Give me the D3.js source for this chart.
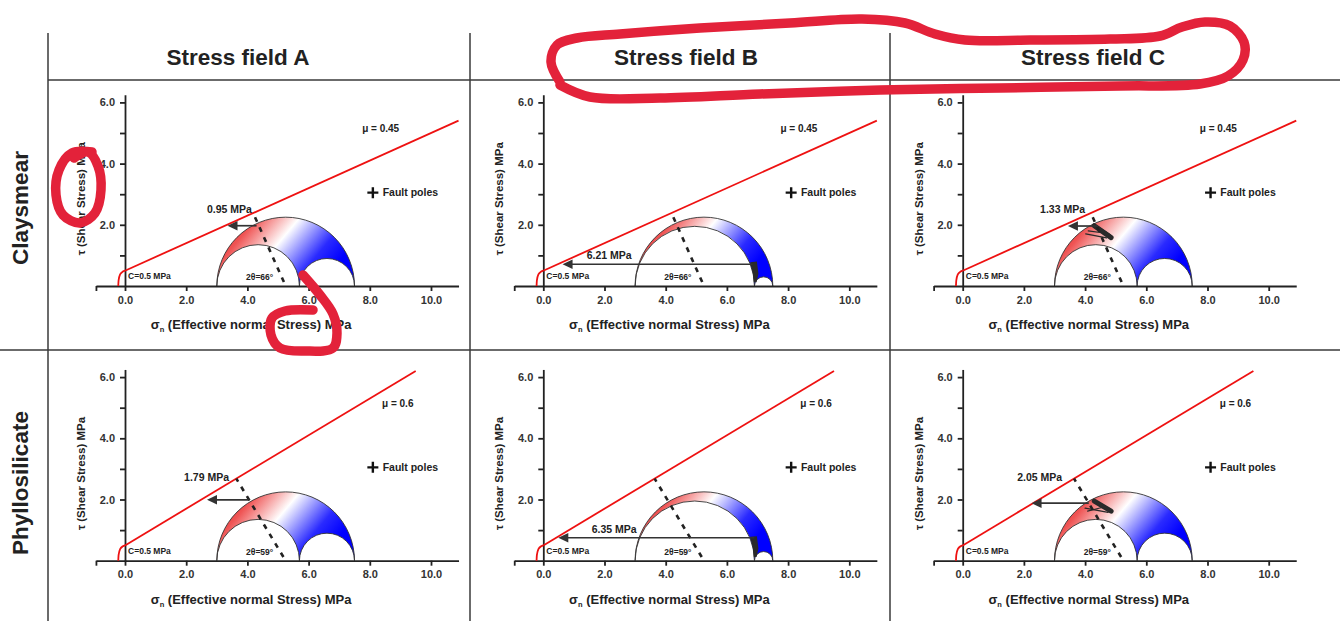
<!DOCTYPE html>
<html lang="en">
<head>
<meta charset="UTF-8">
<title>Mohr circles - stress fields</title>
<style>
  body { margin: 0; background: #fff; overflow: hidden; }
  svg { display: block; font-family: "Liberation Sans", Arial, sans-serif; }
  .axis path, .axis line { stroke: #222; stroke-width: 1.8; }
  .axis text { font-size: 11px; font-weight: bold; fill: #333; }
</style>
</head>
<body>
<svg id="chart" width="1340" height="621"></svg>
<script src="https://cdnjs.cloudflare.com/ajax/libs/d3/7.8.5/d3.min.js"></script>
<script>
// ---- data ----
const fields = ["Stress field A", "Stress field B", "Stress field C"];
const rocks = ["Claysmear", "Phyllosilicate"];
const mu = [0.45, 0.6];                  // friction per row
const cohesion = 0.5;
const envelopeEnd = [10.9, 9.5];         // sigma where the red line stops
const envelopeToe = [[-0.22, 0], [-0.21, 0.18], [-0.16, 0.38], [-0.07, 0.47], [0, 0.5]];
const sigma1 = [7.5, 7.5, 7.5];
const sigma2 = [5.7, 6.9, 5.7];
const sigma3 = [3.0, 3.0, 3.0];
const twoTheta = [66, 59];
const xTicks = [0, 2, 4, 6, 8, 10];
const yTicks = [1, 2, 3, 4, 5, 6];

// shear stress arrows (start on circle -> tip on envelope)
const arrowLabels = [["0.95 MPa", "6.21 MPa", "1.33 MPa"], ["1.79 MPa", "6.35 MPa", "2.05 MPa"]];
const arrowStart = [[[4.3, 1.97], [6.84, 0.71], [4.42, 1.96]], [[4.07, 1.99], [6.9, 0.75], [4.12, 1.88]]];
const arrowTip = [[3.35, 0.63, 3.44], [2.68, 0.49, 2.25]];
const arrowLabelAt = [[[2.68, 2.4], [1.42, 0.88], [2.53, 2.4]], [[1.93, 2.61], [1.58, 0.9], [1.78, 2.61]]];

// clusters of fault poles (dark strokes)
const poleWedge = [[6.76, 0.78], [6.98, 0.8], [7.03, 0.4], [6.97, 0.12], [6.88, 0.12], [6.84, 0.45]];
const poleStrokesC = [
  [[[4.3, 1.97], [4.85, 1.58], 5], [[4.42, 1.9], [4.8, 1.64], 3.5], [[4.02, 1.7], [4.7, 1.57], 1.3], [[4.1, 1.8], [4.62, 1.73], 1.1]],
  [[[4.3, 1.95], [4.85, 1.62], 5], [[4.42, 1.88], [4.8, 1.66], 3.5], [[4.0, 1.72], [4.75, 1.58], 1.3], [[4.08, 1.62], [4.55, 1.74], 1.1]]
];

// hand-drawn red highlight marks (pixel space, overlay)
const markLoop = [[560, 82], [551, 62], [557, 45], [577, 38], [620, 34], [700, 28], [790, 23], [862, 19], [905, 23], [935, 34], [965, 40], [1030, 40], [1110, 39], [1160, 36], [1182, 27], [1205, 22], [1230, 26], [1244, 42], [1243, 60], [1228, 76], [1200, 84], [1120, 86], [1000, 88], [880, 90], [760, 94], [660, 98], [590, 97], [560, 85]];
const markO = [[92, 152], [72, 153], [59, 170], [56, 195], [63, 215], [80, 223], [95, 213], [101, 190], [98, 166], [88, 152], [74, 158]];
const markC = [[303, 275], [320, 295], [333, 314], [337, 333], [333, 348], [305, 351], [280, 348], [271, 335], [272, 318], [285, 311], [313, 310]];

// ---- layout ----
const K = 30.6;                    // px per MPa (both axes)
const colX0 = [125, 543.3, 962.7]; // pixel of sigma = 0
const rowY0 = [286, 560.7];        // pixel of tau = 0
const headerX = [238, 686, 1093];
const rowLabelY = [208, 483];

const svg = d3.select("#chart");
const defs = svg.append("defs");

// grid frame
const frame = svg.append("g").attr("stroke", "#3a3a3a").attr("stroke-width", 1.5);
[48, 470, 890].forEach(x => frame.append("line").attr("x1", x).attr("x2", x).attr("y1", 33).attr("y2", 621));
frame.append("line").attr("x1", 48).attr("x2", 1340).attr("y1", 80).attr("y2", 80);
frame.append("line").attr("x1", 0).attr("x2", 1340).attr("y1", 350).attr("y2", 350);

fields.forEach((f, i) => {
  svg.append("text").attr("x", headerX[i]).attr("y", 65).attr("text-anchor", "middle")
    .attr("font-size", 22.5).attr("font-weight", "bold").attr("fill", "#222").text(f);
});
rocks.forEach((r, i) => {
  svg.append("text").attr("transform", `translate(28,${rowLabelY[i]}) rotate(-90)`)
    .attr("text-anchor", "middle").attr("font-size", 22.5).attr("font-weight", "bold").attr("fill", "#222").text(r);
});

function drawPanel(row, col) {
  const x = d3.scaleLinear().domain([-0.95, 10.9]).range([colX0[col] - 0.95 * K, colX0[col] + 10.9 * K]);
  const y = d3.scaleLinear().domain([0, 6.25]).range([rowY0[row], rowY0[row] - 6.25 * K]);
  const g = svg.append("g");
  const s1 = sigma1[col], s2 = sigma2[col], s3 = sigma3[col];
  const c = (s1 + s3) / 2;

  // gradient for the 3D Mohr band
  const gid = `grad${row}${col}`;
  const grad = defs.append("linearGradient").attr("id", gid).attr("gradientUnits", "userSpaceOnUse")
    .attr("x1", x(3.89)).attr("y1", y(3.02)).attr("x2", x(6.81)).attr("y2", y(0.58));
  [[0, "#e41a1a"], [0.22, "#ef5454"], [0.5, "#ffffff"], [0.82, "#2a2aff"], [1, "#0000ff"]]
    .forEach(s => grad.append("stop").attr("offset", s[0]).attr("stop-color", s[1]));

  const R = (s1 - s3) / 2 * K, r32 = (s2 - s3) / 2 * K, r21 = (s1 - s2) / 2 * K;
  const b = y(0);
  g.append("path")
    .attr("d", `M${x(s3)},${b} A${R},${R} 0 0 1 ${x(s1)},${b} A${r21},${r21} 0 0 0 ${x(s2)},${b} A${r32},${r32} 0 0 0 ${x(s3)},${b} Z`)
    .attr("fill", `url(#${gid})`).attr("stroke", "#333").attr("stroke-width", 0.9);

  // pole clusters
  if (col === 1) {
    g.append("path").attr("d", d3.line().x(d => x(d[0])).y(d => y(d[1]))(poleWedge) + "Z")
      .attr("fill", "#2a2a2a");
  }
  if (col === 2) {
    poleStrokesC[row].forEach(s => {
      g.append("line").attr("x1", x(s[0][0])).attr("y1", y(s[0][1])).attr("x2", x(s[1][0])).attr("y2", y(s[1][1]))
        .attr("stroke", "#2a2a2a").attr("stroke-width", s[2]).attr("stroke-linecap", "round");
    });
  }

  // axes
  g.append("g").attr("class", "axis").attr("transform", `translate(0,${y(0)})`)
    .call(d3.axisBottom(x).tickValues([-0.95].concat(xTicks)).tickSize(5).tickSizeOuter(0).tickPadding(5)
      .tickFormat(d => d < 0 ? "" : d3.format(".1f")(d)));
  g.append("g").attr("class", "axis").attr("transform", `translate(${x(0)},0)`)
    .call(d3.axisLeft(y).tickValues(yTicks).tickSize(5).tickSizeOuter(0).tickPadding(5)
      .tickFormat(d => d % 2 === 0 ? d3.format(".1f")(d) : ""));

  // failure envelope
  const m = mu[row];
  const line = d3.line().x(d => x(d[0])).y(d => y(d[1]));
  g.append("path").attr("d", line.curve(d3.curveMonotoneX)(envelopeToe))
    .attr("fill", "none").attr("stroke", "#ee1111").attr("stroke-width", 1.8);
  g.append("path").attr("d", d3.line().x(d => x(d[0])).y(d => y(d[1]))([[0, cohesion], [envelopeEnd[row], cohesion + m * envelopeEnd[row]]]))
    .attr("fill", "none").attr("stroke", "#ee1111").attr("stroke-width", 1.8);

  // dashed line at 2theta from the circle centre to the envelope
  const a = twoTheta[row] * Math.PI / 180;
  const t = (cohesion + m * c) / (Math.sin(a) + m * Math.cos(a));
  g.append("line")
    .attr("x1", x(c - 0.14 * Math.cos(a))).attr("y1", y(0.14 * Math.sin(a)))
    .attr("x2", x(c - t * Math.cos(a))).attr("y2", y(t * Math.sin(a)))
    .attr("stroke", "#222").attr("stroke-width", 2.6).attr("stroke-dasharray", "5,6");

  // shear arrow
  const st = arrowStart[row][col], tip = arrowTip[row][col];
  g.append("line").attr("x1", x(st[0])).attr("y1", y(st[1])).attr("x2", x(tip) + 8).attr("y2", y(st[1]))
    .attr("stroke", "#333").attr("stroke-width", 1.7);
  g.append("path")
    .attr("d", `M${x(tip)},${y(st[1])} l10,-4.8 l0,9.6 Z`).attr("fill", "#333");
  g.append("text").attr("x", x(arrowLabelAt[row][col][0])).attr("y", y(arrowLabelAt[row][col][1]))
    .attr("font-size", 10.5).attr("font-weight", "bold").attr("fill", "#222").text(arrowLabels[row][col]);

  // annotations
  const txt = (sx, ty, s, size, anchor) => g.append("text").attr("x", x(sx)).attr("y", y(ty))
    .attr("font-size", size).attr("font-weight", "bold").attr("fill", "#222")
    .attr("text-anchor", anchor || "start").text(s);
  txt(0.1, 0.22, "C=0.5 MPa", 8.5);
  txt(4.4, 0.2, `2θ=${twoTheta[row]}°`, 8.5, "middle");
  txt(row === 0 ? 7.75 : 8.4, 5.02, `μ = ${mu[row]}`, 10);
  txt(8.42, 2.93, "Fault poles", 10.5);
  g.append("path").attr("d", `M${x(8.1) - 5.5},${y(3.05)} h11 M${x(8.1)},${y(3.05) - 5.5} v11`)
    .attr("stroke", "#111").attr("stroke-width", 2.4);

  // axis titles
  const xt = g.append("text").attr("x", x(4.12)).attr("y", y(0) + 43).attr("text-anchor", "middle")
    .attr("font-size", 13).attr("font-weight", "bold").attr("fill", "#222");
  xt.append("tspan").text("σ");
  xt.append("tspan").attr("font-size", 7.5).attr("dy", 3).text("n");
  xt.append("tspan").attr("dy", -3).text(" (Effective normal Stress) MPa");
  g.append("text").attr("transform", `translate(${x(0) - 40},${y(2.85)}) rotate(-90)`)
    .attr("text-anchor", "middle").attr("font-size", 11.5).attr("font-weight", "bold").attr("fill", "#222")
    .text("τ (Shear Stress) MPa");
}

rocks.forEach((r, row) => fields.forEach((f, col) => drawPanel(row, col)));

// red highlight scribbles on top
const scribble = d3.line().curve(d3.curveCatmullRom);
[markLoop, markO, markC].forEach(pts => {
  svg.append("path").attr("d", scribble(pts)).attr("fill", "none")
    .attr("stroke", "#e3223a").attr("stroke-width", 9.5).attr("stroke-linecap", "round").attr("stroke-linejoin", "round");
});
</script>
</body>
</html>
